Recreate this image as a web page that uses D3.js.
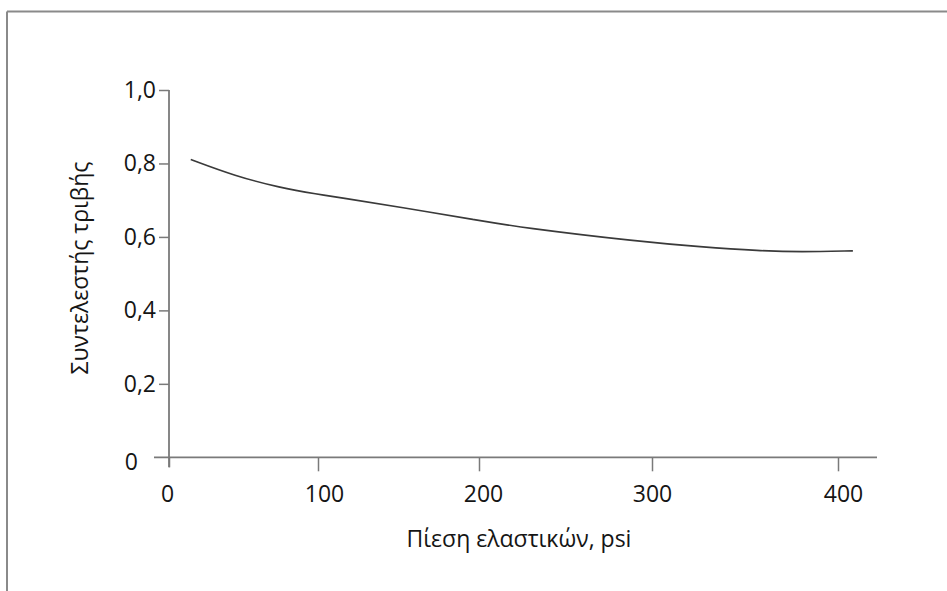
<!DOCTYPE html>
<html><head><meta charset="utf-8">
<script src="https://cdn.jsdelivr.net/npm/d3@7/dist/d3.min.js"></script>
<style>
body{margin:0;background:#fff}
svg text{font-family:"Open Sans",sans-serif;fill:#151515}
</style></head>
<body><svg id="c" width="947" height="591"></svg>
<script>
// Data
const pressure = [14.6, 44.3, 74.5, 100, 113.7, 150.9, 200, 223.7, 293.1, 325.8, 358.1, 379.6, 408];
const friction = [0.811, 0.766, 0.734, 0.716, 0.707, 0.681, 0.645, 0.626, 0.587, 0.573, 0.562, 0.559, 0.562];
const xTicks = [0, 100, 200, 300, 400];
const yTicks = [0, 0.2, 0.4, 0.6, 0.8, 1.0];
const xTitle = "Πίεση ελαστικών, psi";
const yTitle = "Συντελεστής τριβής";

const svg = d3.select("#c");
const axisColor = "#7a7a7a";
const fs = 23;

// frame (top and left edges)
svg.append("line").attr("x1",7).attr("x2",947).attr("y1",11.5).attr("y2",11.5)
  .attr("stroke","#8a8a8a").attr("stroke-width",2);
svg.append("line").attr("x1",7).attr("x2",7).attr("y1",11.5).attr("y2",591)
  .attr("stroke","#8a8a8a").attr("stroke-width",2);

// scales (the original drawing has slightly uneven x tick spacing)
const x = d3.scaleLinear().domain(xTicks).range([169, 318, 479, 652, 838]);
const y = d3.scaleLinear().domain([0, 1]).range([457.3, 90]);

// x axis
const labelShift = {0: -2, 100: 6, 200: 4, 300: 0, 400: 5};
const gx = svg.append("g").attr("transform", `translate(0,${y(0)})`)
  .call(d3.axisBottom(x).tickValues(xTicks).tickSize(14).tickPadding(14)
    .tickFormat(d => String(d)));
gx.select(".domain").remove();
gx.selectAll(".tick line").attr("stroke", axisColor).attr("stroke-width", 1.5)
  .attr("y2", d => d === 0 ? 10 : 14);
gx.selectAll(".tick text").attr("font-size", fs).attr("font-family", "Open Sans").attr("fill","#151515")
  .attr("dx", d => labelShift[d] || 0);
svg.append("line").attr("x1", x(0) - 15).attr("x2", 877)
  .attr("y1", y(0)).attr("y2", y(0)).attr("stroke", axisColor).attr("stroke-width", 1.8);

// y axis
const gy = svg.append("g").attr("transform", `translate(${x(0)},0)`)
  .call(d3.axisLeft(y).tickValues(yTicks.filter(d => d > 0)).tickSize(10).tickPadding(3)
    .tickFormat(d => d3.format(".1f")(d).replace(".", ",")));
gy.select(".domain").remove();
gy.selectAll(".tick line").attr("stroke", axisColor).attr("stroke-width", 1.5);
gy.selectAll(".tick text").attr("font-size", fs).attr("font-family", "Open Sans").attr("fill","#151515");
svg.append("line").attr("x1", x(0)).attr("x2", x(0))
  .attr("y1", y(1)).attr("y2", y(0) + 10).attr("stroke", axisColor).attr("stroke-width", 1.8);
// zero label of y axis
svg.append("text").attr("x", x(0) - 31).attr("y", y(0) + 4).attr("dy", "0.36em")
  .attr("text-anchor", "end").attr("font-size", fs).text(d3.format("d")(yTicks[0]));

// curve
const pts = pressure.map((p, i) => [p, friction[i]]);
svg.append("path").datum(pts)
  .attr("fill", "none").attr("stroke", "#3a3a3a").attr("stroke-width", 1.6)
  .attr("d", d3.line().x(d => x(d[0])).y(d => y(d[1])).curve(d3.curveBasis));

// titles
svg.append("text").attr("x", 519).attr("y", 547).attr("text-anchor", "middle")
  .attr("font-size", fs).text(xTitle);
svg.append("text").attr("transform", `translate(88,268) rotate(-90)`)
  .attr("text-anchor", "middle").attr("font-size", fs).text(yTitle);
</script>
</body></html>
